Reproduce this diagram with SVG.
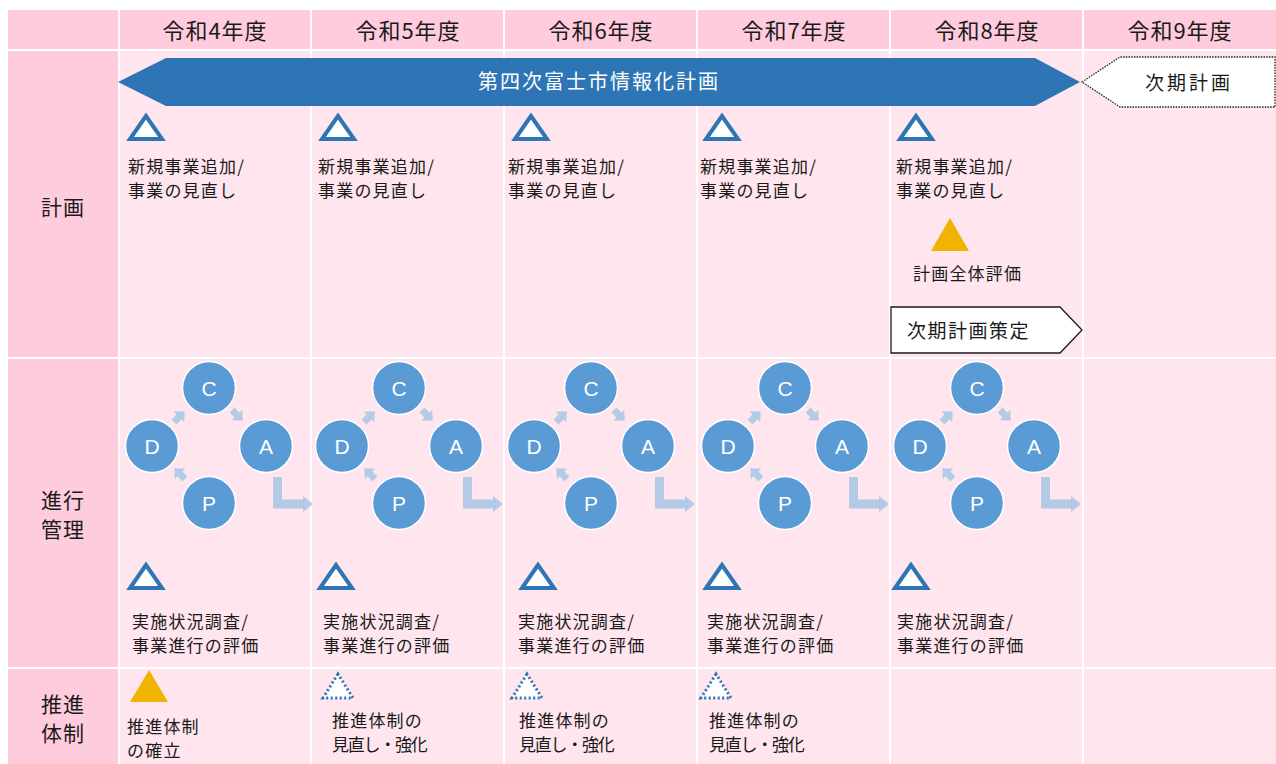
<svg xmlns="http://www.w3.org/2000/svg" width="1276" height="764" viewBox="0 0 1276 764">
<style>
  text { font-family: "Noto Sans CJK JP", "Noto Sans", sans-serif; fill: #1a1a1a; }
  .hd { fill: #FFCCDD; }
  .bd { fill: #FFE5ED; }
  .th { font-size: 22px; letter-spacing: 1px; text-anchor: middle; }
  .lb { font-size: 21px; text-anchor: middle; letter-spacing: 1px; }
  .tx { font-size: 17px; letter-spacing: 1.2px; }
  .tri { fill: #FFFFFF; stroke: #2E75B6; stroke-width: 4; stroke-linejoin: miter; }
  .dtri { fill: #FFFFFF; stroke: #2E75B6; stroke-width: 3; stroke-dasharray: 2 2.5; }
  .gold { fill: #EFB300; }
  .cir { fill: #5B9BD5; stroke: #FFFFFF; stroke-width: 1.5; }
  .ltr { font-family: "Liberation Sans", Arial, sans-serif; font-size: 21px; fill: #FFFFFF; text-anchor: middle; }
  .sa { fill: #B4CBE8; }
</style>
<defs>
  <polygon id="sarrow" class="sa" points="-7,-3.5 0,-3.5 0,-7.5 8,0 0,7.5 0,3.5 -7,3.5"/>
  <g id="pdca">
    <use href="#sarrow" transform="translate(-30,29) rotate(-45)"/>
    <use href="#sarrow" transform="translate(28,27) rotate(45)"/>
    <use href="#sarrow" transform="translate(-29,86) rotate(-135)"/>
    <polygon class="sa" points="64,89 73,89 73,111.5 94,111.5 94,108 104,116 94,124 94,120.5 64,120.5"/>
    <circle class="cir" cx="0" cy="0" r="26.5"/>
    <circle class="cir" cx="-57" cy="58" r="26.5"/>
    <circle class="cir" cx="57" cy="58" r="26.5"/>
    <circle class="cir" cx="0" cy="115" r="26.5"/>
    <text class="ltr" x="0" y="7.5">C</text>
    <text class="ltr" x="-57" y="65.5">D</text>
    <text class="ltr" x="57" y="65.5">A</text>
    <text class="ltr" x="0" y="122.5">P</text>
  </g>
</defs>
<rect width="1276" height="764" fill="#FFFFFF"/>

<g id="grid">
  <rect class="hd" x="8" y="10" width="110" height="39"/>
  <rect class="hd" x="120" y="10" width="190" height="39"/>
  <rect class="hd" x="312" y="10" width="191" height="39"/>
  <rect class="hd" x="505" y="10" width="191" height="39"/>
  <rect class="hd" x="698" y="10" width="191" height="39"/>
  <rect class="hd" x="891" y="10" width="191" height="39"/>
  <rect class="hd" x="1084" y="10" width="192" height="39"/>
  <rect class="hd" x="8" y="51" width="110" height="306"/>
  <rect class="hd" x="8" y="359" width="110" height="308"/>
  <rect class="hd" x="8" y="669" width="110" height="95"/>
  <rect class="bd" x="120" y="51" width="190" height="306"/>
  <rect class="bd" x="312" y="51" width="191" height="306"/>
  <rect class="bd" x="505" y="51" width="191" height="306"/>
  <rect class="bd" x="698" y="51" width="191" height="306"/>
  <rect class="bd" x="891" y="51" width="191" height="306"/>
  <rect class="bd" x="1084" y="51" width="192" height="306"/>
  <rect class="bd" x="120" y="359" width="190" height="308"/>
  <rect class="bd" x="312" y="359" width="191" height="308"/>
  <rect class="bd" x="505" y="359" width="191" height="308"/>
  <rect class="bd" x="698" y="359" width="191" height="308"/>
  <rect class="bd" x="891" y="359" width="191" height="308"/>
  <rect class="bd" x="1084" y="359" width="192" height="308"/>
  <rect class="bd" x="120" y="669" width="190" height="95"/>
  <rect class="bd" x="312" y="669" width="191" height="95"/>
  <rect class="bd" x="505" y="669" width="191" height="95"/>
  <rect class="bd" x="698" y="669" width="191" height="95"/>
  <rect class="bd" x="891" y="669" width="191" height="95"/>
  <rect class="bd" x="1084" y="669" width="192" height="95"/>
</g>

<g id="headers">
  <text class="th" x="215" y="39">令和4年度</text>
  <text class="th" x="408" y="39">令和5年度</text>
  <text class="th" x="601" y="39">令和6年度</text>
  <text class="th" x="794" y="39">令和7年度</text>
  <text class="th" x="987" y="39">令和8年度</text>
  <text class="th" x="1180" y="39">令和9年度</text>
</g>

<g id="row-labels">
  <text class="lb" x="63" y="215">計画</text>
  <text class="lb" x="63" y="508">進行</text>
  <text class="lb" x="63" y="537">管理</text>
  <text class="lb" x="63" y="712">推進</text>
  <text class="lb" x="63" y="741">体制</text>
</g>

<g id="plan-banner">
  <polygon points="118,82 166,58 1035,58 1080,82 1035,106 166,106" fill="#2E75B6"/>
  <text x="599" y="89" font-size="20" letter-spacing="2" text-anchor="middle" style="fill:#FFFFFF">第四次富士市情報化計画</text>
</g>

<g id="next-plan">
  <polygon points="1082,82 1120,57 1275,57 1275,107 1120,107" fill="#FFFFFF" stroke="#222" stroke-width="1.3" stroke-dasharray="1.5 1.2"/>
  <text x="1189" y="90" font-size="19" letter-spacing="3" text-anchor="middle">次期計画</text>
</g>

<g id="plan-items">
  <polygon class="tri" points="146,116 130,139 162,139"/>
  <text class="tx" x="128" y="173">新規事業追加/</text>
  <text class="tx" x="128" y="197">事業の見直し</text>
  <polygon class="tri" points="338,116 322,139 354,139"/>
  <text class="tx" x="318" y="173">新規事業追加/</text>
  <text class="tx" x="318" y="197">事業の見直し</text>
  <polygon class="tri" points="531,116 515,139 547,139"/>
  <text class="tx" x="508" y="173">新規事業追加/</text>
  <text class="tx" x="508" y="197">事業の見直し</text>
  <polygon class="tri" points="722,116 706,139 738,139"/>
  <text class="tx" x="700" y="173">新規事業追加/</text>
  <text class="tx" x="700" y="197">事業の見直し</text>
  <polygon class="tri" points="916,116 900,139 932,139"/>
  <text class="tx" x="896" y="173">新規事業追加/</text>
  <text class="tx" x="896" y="197">事業の見直し</text>
</g>

<g id="plan-evaluation">
  <polygon class="gold" points="950,218 931,251 969,251"/>
  <text class="tx" x="913" y="280">計画全体評価</text>
</g>

<g id="next-plan-making">
  <polygon points="891,307 1060,307 1082,330 1060,353 891,353" fill="#FFFFFF" stroke="#1a1a1a" stroke-width="1.3"/>
  <text x="907" y="338" font-size="19" letter-spacing="1.5">次期計画策定</text>
</g>

<g id="pdca-cycles">
  <use href="#pdca" transform="translate(209,388)"/>
  <use href="#pdca" transform="translate(399,388)"/>
  <use href="#pdca" transform="translate(591,388)"/>
  <use href="#pdca" transform="translate(785,388)"/>
  <use href="#pdca" transform="translate(977,388)"/>
</g>

<g id="progress-items">
  <polygon class="tri" points="146,565 130,588 162,588"/>
  <text class="tx" x="132" y="628">実施状況調査/</text>
  <text class="tx" x="132" y="652">事業進行の評価</text>
  <polygon class="tri" points="336,565 320,588 352,588"/>
  <text class="tx" x="323" y="628">実施状況調査/</text>
  <text class="tx" x="323" y="652">事業進行の評価</text>
  <polygon class="tri" points="538,565 522,588 554,588"/>
  <text class="tx" x="518" y="628">実施状況調査/</text>
  <text class="tx" x="518" y="652">事業進行の評価</text>
  <polygon class="tri" points="722,565 706,588 738,588"/>
  <text class="tx" x="707" y="628">実施状況調査/</text>
  <text class="tx" x="707" y="652">事業進行の評価</text>
  <polygon class="tri" points="911,565 895,588 927,588"/>
  <text class="tx" x="897" y="628">実施状況調査/</text>
  <text class="tx" x="897" y="652">事業進行の評価</text>
</g>

<g id="promotion-items">
  <polygon class="gold" points="149,670 130,702 168,702"/>
  <text class="tx" x="127" y="733">推進体制</text>
  <text class="tx" x="127" y="757">の確立</text>
  <polygon class="dtri" points="338,674 323,698 353,698"/>
  <text class="tx" x="332" y="727">推進体制の</text>
  <text class="tx" x="332" y="751" textLength="97" lengthAdjust="spacing">見直し・強化</text>
  <polygon class="dtri" points="527,674 512,698 542,698"/>
  <text class="tx" x="519" y="727">推進体制の</text>
  <text class="tx" x="519" y="751" textLength="97" lengthAdjust="spacing">見直し・強化</text>
  <polygon class="dtri" points="716,674 701,698 731,698"/>
  <text class="tx" x="709" y="727">推進体制の</text>
  <text class="tx" x="709" y="751" textLength="97" lengthAdjust="spacing">見直し・強化</text>
</g>
</svg>
